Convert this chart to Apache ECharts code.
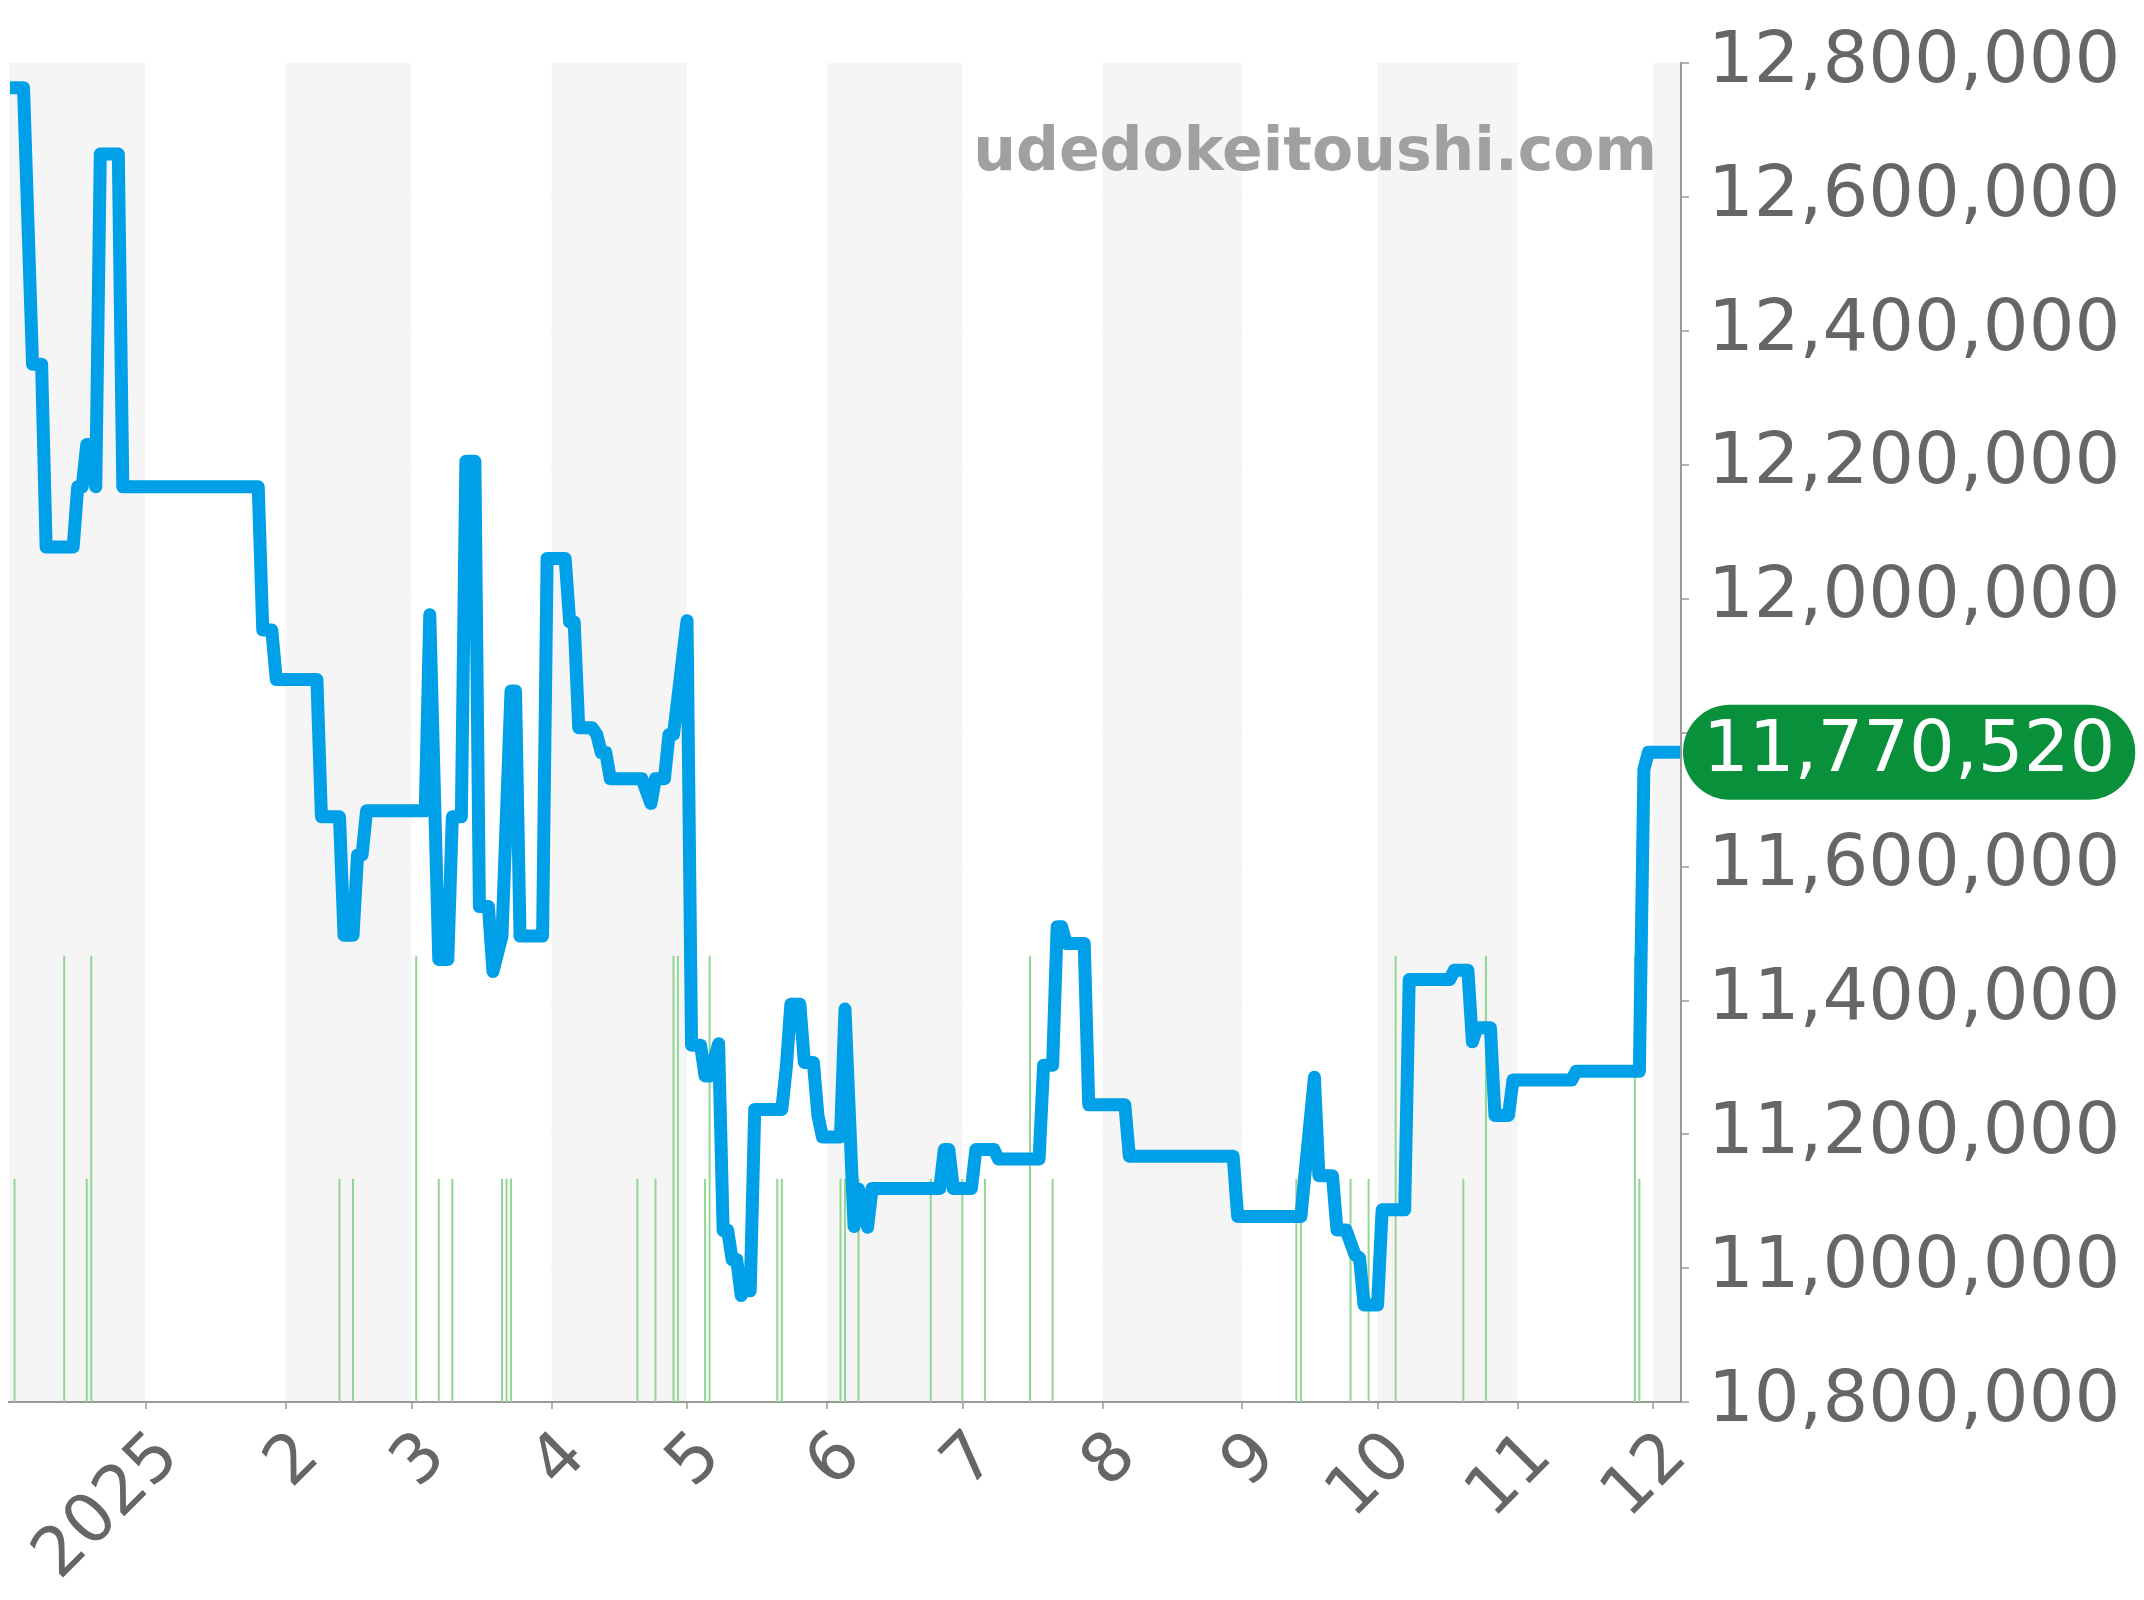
<!DOCTYPE html>
<html>
<head>
<meta charset="utf-8">
<script src="https://cdn.jsdelivr.net/npm/echarts@6/dist/echarts.min.js"></script>
<style>
html,body{margin:0;padding:0;background:#fff;}
#c{width:2144px;height:1600px;}
</style>
</head>
<body>
<div id="c"></div>
<script>
// ---- data ----
const priceDates = [
 '2024-12-02','2024-12-05','2024-12-07','2024-12-09','2024-12-10','2024-12-16','2024-12-17','2024-12-18',
 '2024-12-19','2024-12-20','2024-12-21','2024-12-22','2024-12-26','2024-12-27',
 '2025-01-26','2025-01-27','2025-01-29','2025-01-30','2025-02-08','2025-02-09','2025-02-13','2025-02-14',
 '2025-02-16','2025-02-17','2025-02-18','2025-02-19','2025-03-04','2025-03-05','2025-03-07','2025-03-09',
 '2025-03-10','2025-03-12','2025-03-13','2025-03-15','2025-03-16','2025-03-18','2025-03-19','2025-03-21',
 '2025-03-23','2025-03-24','2025-03-25','2025-03-30','2025-03-31','2025-04-04','2025-04-05','2025-04-06',
 '2025-04-07','2025-04-10','2025-04-11','2025-04-12','2025-04-13','2025-04-14','2025-04-21','2025-04-23',
 '2025-04-24','2025-04-26','2025-04-27','2025-04-28','2025-05-01','2025-05-02','2025-05-04','2025-05-05',
 '2025-05-06','2025-05-08','2025-05-09','2025-05-10','2025-05-11','2025-05-12','2025-05-13','2025-05-14',
 '2025-05-15','2025-05-16','2025-05-22','2025-05-23','2025-05-24','2025-05-26','2025-05-27','2025-05-29',
 '2025-05-30','2025-05-31','2025-06-04','2025-06-05','2025-06-07','2025-06-08','2025-06-10','2025-06-11',
 '2025-06-26','2025-06-27','2025-06-28','2025-06-29','2025-07-03','2025-07-04','2025-07-08','2025-07-09',
 '2025-07-18','2025-07-19','2025-07-21','2025-07-22','2025-07-23','2025-07-24','2025-07-28','2025-07-29',
 '2025-08-06','2025-08-07','2025-08-30','2025-08-31','2025-09-14','2025-09-17','2025-09-18','2025-09-21',
 '2025-09-22','2025-09-24','2025-09-26','2025-09-27','2025-09-28','2025-10-01','2025-10-02','2025-10-07',
 '2025-10-08','2025-10-17','2025-10-18','2025-10-21','2025-10-22','2025-10-23','2025-10-26','2025-10-27',
 '2025-10-30','2025-10-31','2025-11-13','2025-11-14','2025-11-28','2025-11-29','2025-11-30','2025-12-07'
];
const priceValues = [
 12763000,12763000,12350000,12350000,12077000,12077000,12167000,12167000,
 12230000,12230000,12167000,12664000,12664000,12167000,
 12167000,11953000,11953000,11879000,11879000,11674000,11674000,11497000,
 11497000,11617000,11617000,11683000,11683000,11976000,11461000,11461000,
 11674000,11674000,12205000,12205000,11540000,11540000,11443000,11496000,
 11862000,11862000,11496000,11496000,12060000,12060000,11965000,11965000,
 11807000,11807000,11797000,11770000,11770000,11731000,11731000,11694000,
 11731000,11731000,11797000,11797000,11967000,11333000,11333000,11287000,
 11287000,11335000,11056000,11056000,11013000,11013000,10959000,10972000,
 10966000,11237000,11237000,11300000,11394000,11394000,11307000,11307000,
 11228000,11196000,11196000,11387000,11062000,11118000,11061000,11119000,
 11119000,11177000,11177000,11119000,11119000,11177000,11177000,11163000,
 11163000,11303000,11303000,11510000,11510000,11485000,11485000,11244000,
 11244000,11167000,11167000,11077000,11077000,11285000,11138000,11138000,
 11057000,11057000,11020000,11015000,10945000,10945000,11087000,11087000,
 11431000,11431000,11445000,11445000,11338000,11359000,11359000,11228000,
 11228000,11281000,11281000,11294000,11294000,11745000,11770520,11770520
];
const listingDates = [
 '2024-12-03','2024-12-14','2024-12-19','2024-12-20','2025-02-13','2025-02-16','2025-03-02','2025-03-07',
 '2025-03-10','2025-03-21','2025-03-22','2025-03-23','2025-04-20','2025-04-24','2025-04-28','2025-04-29',
 '2025-05-05','2025-05-06','2025-05-21','2025-05-22','2025-06-04','2025-06-05','2025-06-08','2025-06-24',
 '2025-07-01','2025-07-06','2025-07-16','2025-07-21','2025-09-13','2025-09-14','2025-09-25','2025-09-29',
 '2025-10-05','2025-10-20','2025-10-25','2025-11-27','2025-11-28'
];
const listingCounts = [
 1,2,1,2,1,1,2,1,
 1,1,1,1,1,1,2,2,
 1,2,1,1,1,1,1,1,
 1,1,2,1,1,1,1,1,
 2,1,2,2,1
];
const yTicks = [10800000, 11000000, 11200000, 11400000, 11600000, 11800000, 12000000, 12200000, 12400000, 12600000, 12800000];
const axisStart = '2024-12-02';
const axisEnd = '2025-12-07';
const watermark = 'udedokeitoushi.com';

// ---- helpers ----
function t(s){ const p = s.split('-').map(Number); return Date.UTC(p[0], p[1]-1, p[2]); }
const DAY = 86400000;
const fmt = v => Math.round(v).toLocaleString('en-US');
const lastValue = priceValues[priceValues.length-1];

const lineData = priceDates.map((d,i) => [t(d), priceValues[i]]);
const barData = listingDates.map((d,i) => [t(d), listingCounts[i]]);

const chart = echarts.init(document.getElementById('c'), null, {renderer:'canvas'});
const FONT = 'DejaVu Sans';
chart.setOption({
  useUTC: true,
  animation: false,
  backgroundColor: '#ffffff',
  grid: {left: 9, right: 463, top: 63, bottom: 198, containLabel: false},
  xAxis: [{
    type: 'time',
    min: t(axisStart), max: t(axisEnd),
    splitNumber: 12, minInterval: 28*DAY, maxInterval: 31*DAY,
    axisLine: {show: true, onZero: false, lineStyle: {color: '#9fd79f', width: 2, type: [2, 2.5]}},
    axisTick: {show: true, length: 7, lineStyle: {color: '#999', width: 1.5}},
    axisLabel: {
      show: true, rotate: 45, fontSize: 68, color: '#666', fontFamily: FONT,
      margin: 20, verticalAlign: 'top', hideOverlap: false,
      showMinLabel: false, showMaxLabel: false,
      formatter: function(v){
        const d = new Date(v);
        if (d.getUTCDate() !== 1) return '';
        const m = d.getUTCMonth();
        return m === 0 ? String(d.getUTCFullYear()) : String(m+1);
      }
    },
    splitLine: {show: false},
    splitArea: {show: true, areaStyle: {color: ['#f5f5f5', '#ffffff']}}
  }, {
    type: 'time', position: 'top',
    min: t(axisStart), max: t(axisEnd),
    axisLine: {show: true, lineStyle: {color: '#999', width: 2}},
    axisTick: {show: false}, axisLabel: {show: false},
    splitLine: {show: false}, splitArea: {show: false}
  }],
  yAxis: [{
    type: 'value', position: 'right',
    min: yTicks[0], max: yTicks[yTicks.length-1], interval: yTicks[1]-yTicks[0],
    axisLine: {show: true, lineStyle: {color: '#999', width: 2}},
    axisTick: {show: true, length: 8, lineStyle: {color: '#999', width: 1.5}},
    axisLabel: {
      fontSize: 72, color: '#666', fontFamily: FONT, margin: 27,
      formatter: v => (Math.abs(v - lastValue) < 80000 ? '' : fmt(v))
    },
    splitLine: {show: true, lineStyle: {color: '#e3e3e3', width: 1}}
  }, {
    type: 'value', show: false, min: 0, max: 6,
    splitLine: {show: false}
  }],
  graphic: [{
    type: 'text', right: 2144-1657, top: 124, z: 10,
    style: {text: watermark, fill: '#a0a0a0', font: 'bold 60px "DejaVu Sans"'}
  }],
  series: [{
    type: 'bar', xAxisIndex: 0, yAxisIndex: 1,
    data: barData, barWidth: 2, silent: true, z: 1,
    itemStyle: {color: '#93d593'}
  }, {
    type: 'line', xAxisIndex: 0, yAxisIndex: 0,
    data: lineData, showSymbol: false, symbol: 'none', z: 3,
    lineStyle: {color: '#00a0e9', width: 13, join: 'round', cap: 'butt'},
    endLabel: {
      show: true, distance: 3,
      formatter: p => fmt(p.value[1]),
      color: '#fff', backgroundColor: '#08903a', borderRadius: 47,
      padding: [12, 20, 11, 20], fontSize: 72, fontFamily: FONT
    }
  }]
});
</script>
</body>
</html>
